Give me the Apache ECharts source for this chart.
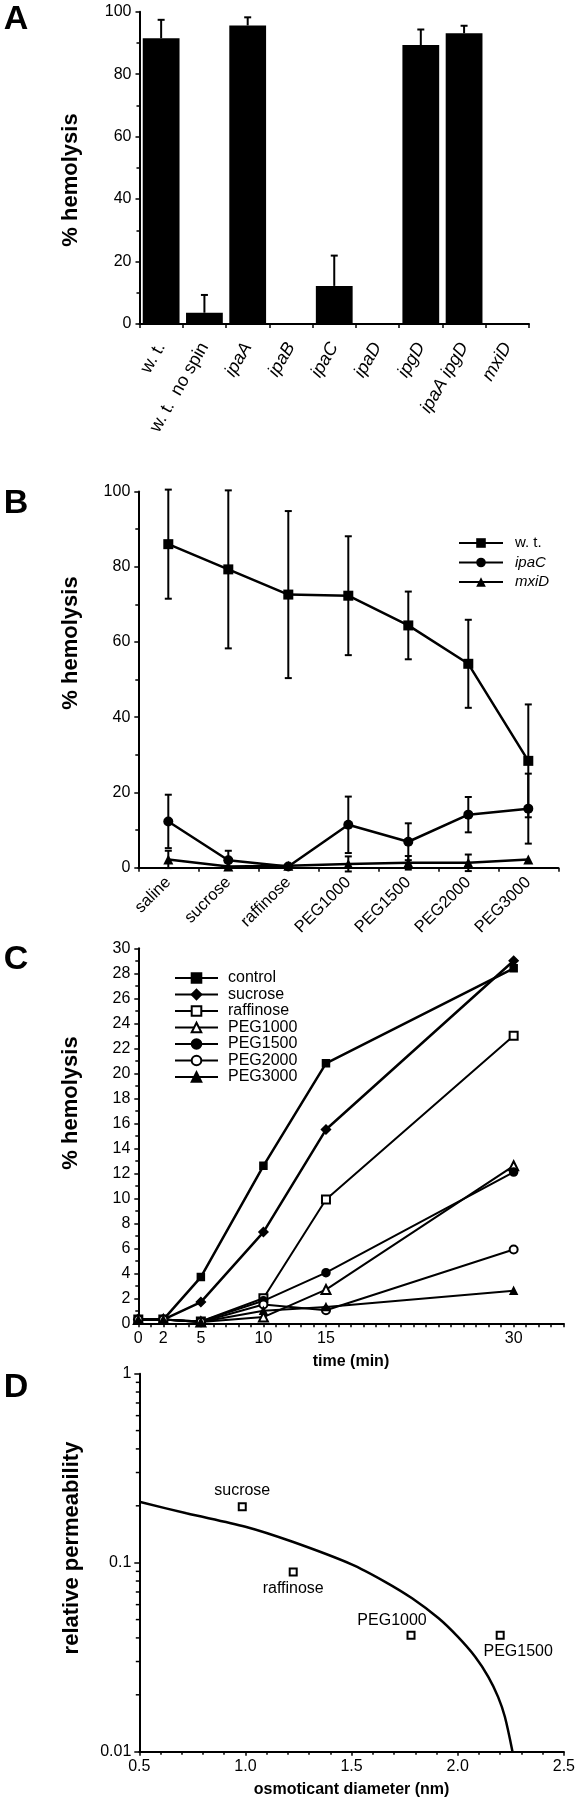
<!DOCTYPE html>
<html><head><meta charset="utf-8">
<script src="https://cdn.jsdelivr.net/npm/echarts@6/dist/echarts.min.js"></script>
<style>html,body{margin:0;padding:0;background:#fff}#c{width:578px;height:1800px}</style>
</head><body><div id="c"></div>
<script>
// ---------- Panel A ----------
const strainsA = ['w. t.', 'w. t.  no spin', 'ipaA', 'ipaB', 'ipaC', 'ipaD', 'ipgD', 'ipaA ipgD', 'mxiD'];
const hemolysisA = [91.5, 3.6, 95.6, 0, 12.2, 0, 89.3, 93.1, 0];
const errorA = [5.9, 5.7, 2.6, 0, 9.7, 0, 5.0, 2.4, 0];

// ---------- Panel B ----------
const osmoticantsB = ['saline', 'sucrose', 'raffinose', 'PEG1000', 'PEG1500', 'PEG2000', 'PEG3000'];
const wtB = [86.0, 79.3, 72.6, 72.3, 64.4, 54.2, 28.4];
const wtErrB = [14.5, 21.0, 22.2, 15.8, 9.0, 11.7, 15.0];
const ipaCB = [12.3, 2.0, 0.3, 11.4, 6.9, 14.1, 15.7];
const ipaCErrB = [7.1, 2.5, 0, 7.5, 4.9, 4.7, 9.3];
const mxiDB = [2.2, 0.3, 0.5, 1.0, 1.3, 1.3, 2.2];
const mxiDErrB = [2.3, 0, 0, 2.0, 1.8, 2.2, 0];

// ---------- Panel C ----------
const timeC = [0, 2, 5, 10, 15, 30];
const timeLabelsC = [0, 2, 5, 10, 15, 30];
const controlC = [0.3, 0.3, 3.7, 12.6, 20.8, 28.4];
const sucroseC = [0.3, 0.3, 1.7, 7.3, 15.5, 29.0];
const raffinoseC = [0.3, 0.3, 0.15, 2.0, 9.9, 23.0];
const peg1000C = [0.3, 0.3, 0.1, 0.5, 2.7, 12.6];
const peg1500C = [0.3, 0.3, 0.15, 1.8, 4.05, 12.1];
const peg2000C = [0.3, 0.3, 0.1, 1.5, 1.05, 5.9];
const peg3000C = [0.3, 0.3, 0.1, 1.0, 1.3, 2.6];

// ---------- Panel D ----------
const namesD = ['sucrose', 'raffinose', 'PEG1000', 'PEG1500'];
const diameterD = [0.985, 1.225, 1.78, 2.2];
const permeabilityD = [0.198, 0.0893, 0.0413, 0.0413];
const fitDiameterD = [0.5, 0.722, 1.0, 1.222, 1.5, 1.66, 1.785, 1.91, 2.0, 2.082, 2.144, 2.19, 2.222, 2.258];
const fitPermeabilityD = [0.210, 0.1825, 0.155, 0.129, 0.098, 0.079, 0.0648, 0.0508, 0.0406, 0.0318, 0.0249, 0.0195, 0.0153, 0.0100];
const minorTicksD = [0.02, 0.03, 0.04, 0.05, 0.06, 0.07, 0.08, 0.09, 0.2, 0.3, 0.4, 0.5, 0.6, 0.7, 0.8, 0.9];

// ---------- styling ----------
const FONT = "'Liberation Sans', Arial, Helvetica, sans-serif";
const BLACK = '#000';
const axLine = { show: true, onZero: false, lineStyle: { color: BLACK, width: 2 } };
const tick = (len) => ({ show: true, inside: false, length: len, lineStyle: { color: BLACK, width: 1.5 } });
const minor = (n) => ({ show: true, splitNumber: n, length: 3, lineStyle: { color: BLACK, width: 1.5 } });
const lbl = (extra) => Object.assign({ color: BLACK, fontSize: 16, fontFamily: FONT }, extra || {});
const yTitle = (text, x, y) => ({
  type: 'text', x: x, y: y, rotation: Math.PI / 2, silent: true,
  style: { text: text, fontSize: 22, fontWeight: 'bold', fontFamily: FONT, fill: BLACK,
    align: 'center', verticalAlign: 'middle', textAlign: 'center', textVerticalAlign: 'middle' }
});
const panelLetter = (text, top) => ({ type: 'text', left: 3.7, top: top, silent: true,
  style: { text: text, fontSize: 34, fontWeight: 'bold', fontFamily: FONT, fill: BLACK } });

function errorBars(upOnly) {
  return function (params, api) {
    const x = api.value(0), v = api.value(1), e = api.value(2);
    if (!(e > 0)) return null;
    const hi = api.coord([x, v + e]);
    const lo = api.coord([x, upOnly ? v : v - e]);
    const cap = 3.5;
    const style = { stroke: BLACK, lineWidth: 2 };
    const children = [
      { type: 'line', shape: { x1: hi[0], y1: hi[1], x2: lo[0], y2: lo[1] }, style: style },
      { type: 'line', shape: { x1: hi[0] - cap, y1: hi[1], x2: hi[0] + cap, y2: hi[1] }, style: style }
    ];
    if (!upOnly) children.push({ type: 'line', shape: { x1: lo[0] - cap, y1: lo[1], x2: lo[0] + cap, y2: lo[1] }, style: style });
    return { type: 'group', children: children };
  };
}

// minor ticks of the log axis, placed through the axis scale
function logMinorTick(params, api) {
  const p = api.coord([api.value(0), api.value(1)]);
  return { type: 'line', shape: { x1: p[0] - 3.5, y1: p[1], x2: p[0], y2: p[1] }, style: { stroke: BLACK, lineWidth: 1.5 } };
}

const pairs = (xs, ys) => xs.map((x, i) => [x, ys[i]]);
const triples = (vals, errs) => vals.map((v, i) => [i, v, errs[i]]);

const lineB = (name, data, symbol, size) => ({
  name: name, type: 'line', xAxisIndex: 1, yAxisIndex: 1, data: data, symbol: symbol, symbolSize: size,
  itemStyle: { color: BLACK }, lineStyle: { color: BLACK, width: 2.5 }, z: 4
});
const errB = (vals, errs) => ({
  type: 'custom', xAxisIndex: 1, yAxisIndex: 1, data: triples(vals, errs),
  encode: { x: 0, y: 1 }, renderItem: errorBars(false), z: 3, silent: true
});
const lineC = (name, ys, symbol, size, width) => ({
  name: name, type: 'line', xAxisIndex: 2, yAxisIndex: 2, data: pairs(timeC, ys),
  symbol: symbol, symbolSize: size, itemStyle: { color: BLACK, borderColor: BLACK, borderWidth: 1.5 },
  lineStyle: { color: BLACK, width: width }, z: 4
});

const labelPlacementD = [
  { position: 'top', distance: 4 },
  { position: 'bottom', distance: 4 },
  { position: 'top', distance: 2, offset: [-19, 0] },
  { position: 'bottom', distance: 4, offset: [18, 0] }
];

const option = {
  animation: false,
  backgroundColor: '#fff',
  textStyle: { fontFamily: FONT },
  grid: [
    { left: 139.5, top: 11.7, width: 389.5, height: 312.3 },
    { left: 138.3, top: 491.5, width: 420, height: 376.2 },
    { left: 138.3, top: 948.3, width: 425.4, height: 375 },
    { left: 139.3, top: 1373.7, width: 426.7, height: 378 }
  ],
  xAxis: [
    { type: 'category', gridIndex: 0, data: strainsA, axisLine: axLine, axisTick: tick(4), splitLine: { show: false },
      axisLabel: lbl({ rotate: 60, margin: 20, interval: 0,
        formatter: (v) => v.indexOf('w.') === 0 ? '{n|' + v + '}' : '{i|' + v + '}',
        rich: { n: { fontSize: 18, fontFamily: FONT, color: BLACK }, i: { fontSize: 18, fontFamily: FONT, fontStyle: 'italic', color: BLACK } } }) },
    { type: 'category', gridIndex: 1, data: osmoticantsB, axisLine: axLine, axisTick: tick(4), splitLine: { show: false },
      axisLabel: lbl({ rotate: 45, margin: 12, interval: 0, fontSize: 16.5 }) },
    { type: 'value', gridIndex: 2, min: 0, max: 34, interval: 1, axisLine: axLine, axisTick: tick(4), splitLine: { show: false },
      axisLabel: lbl({ margin: 7, formatter: (v) => timeLabelsC.indexOf(v) >= 0 ? String(v) : '' }),
      name: 'time (min)', nameLocation: 'middle', nameGap: 30, nameTextStyle: { color: BLACK, fontSize: 16, fontWeight: 'bold', fontFamily: FONT } },
    { type: 'value', gridIndex: 3, min: 0.5, max: 2.5, interval: 0.5, axisLine: axLine, axisTick: tick(4), minorTick: minor(5), splitLine: { show: false }, minorSplitLine: { show: false },
      axisLabel: lbl({ margin: 7, formatter: (v) => v.toFixed(1) }),
      name: 'osmoticant diameter (nm)', nameLocation: 'middle', nameGap: 30, nameTextStyle: { color: BLACK, fontSize: 16, fontWeight: 'bold', fontFamily: FONT } }
  ],
  yAxis: [
    { type: 'value', gridIndex: 0, min: 0, max: 100, interval: 20, axisLine: axLine, axisTick: tick(4), minorTick: minor(2), splitLine: { show: false }, minorSplitLine: { show: false },
      axisLabel: lbl({ margin: 8 }) },
    { type: 'value', gridIndex: 1, min: 0, max: 100, interval: 20, axisLine: axLine, axisTick: tick(4), minorTick: minor(2), splitLine: { show: false }, minorSplitLine: { show: false },
      axisLabel: lbl({ margin: 8 }) },
    { type: 'value', gridIndex: 2, min: 0, max: 30, interval: 2, axisLine: axLine, axisTick: tick(4), minorTick: minor(2), splitLine: { show: false }, minorSplitLine: { show: false },
      axisLabel: lbl({ margin: 8 }) },
    { type: 'log', logBase: 10, gridIndex: 3, min: 0.01, max: 1, axisLine: axLine, axisTick: tick(5), splitLine: { show: false },
      axisLabel: lbl({ margin: 8 }) }
  ],
  legend: [
    { data: ['w. t.', 'ipaC', 'mxiD'], orient: 'vertical', left: 453, top: 530.5, itemWidth: 44, itemHeight: 12, itemGap: 4.5,
      formatter: (n) => n === 'w. t.' ? n : '{i|' + n + '}',
      textStyle: { color: BLACK, fontSize: 15, fontFamily: FONT, padding: [0, 0, 0, 7],
        rich: { i: { fontStyle: 'italic', fontSize: 15, fontFamily: FONT, color: BLACK } } } },
    { data: ['control', 'sucrose', 'raffinose', 'PEG1000', 'PEG1500', 'PEG2000', 'PEG3000'], orient: 'vertical', left: 169, top: 965,
      itemWidth: 43, itemHeight: 12, itemGap: 0.5,
      textStyle: { color: BLACK, fontSize: 16, fontFamily: FONT, padding: [0, 0, 0, 5] } }
  ],
  graphic: [
    panelLetter('A', 3), panelLetter('B', 487), panelLetter('C', 943), panelLetter('D', 1371),
    yTitle('% hemolysis', 71, 180),
    yTitle('% hemolysis', 71, 643),
    yTitle('% hemolysis', 71, 1103),
    yTitle('relative permeability', 72, 1548)
  ],
  series: [
    { type: 'bar', xAxisIndex: 0, yAxisIndex: 0, data: hemolysisA, barWidth: '85%', itemStyle: { color: BLACK }, z: 2 },
    { type: 'custom', xAxisIndex: 0, yAxisIndex: 0, data: triples(hemolysisA, errorA), encode: { x: 0, y: 1 }, renderItem: errorBars(true), z: 3, silent: true },

    errB(wtB, wtErrB), errB(ipaCB, ipaCErrB), errB(mxiDB, mxiDErrB),
    lineB('w. t.', wtB, 'rect', 10),
    lineB('ipaC', ipaCB, 'circle', 10),
    lineB('mxiD', mxiDB, 'triangle', 10),

    lineC('control', controlC, 'rect', 7, 2.5),
    lineC('sucrose', sucroseC, 'diamond', 9, 2.5),
    lineC('raffinose', raffinoseC, 'emptyRect', 8, 2),
    lineC('PEG1000', peg1000C, 'emptyTriangle', 9, 2),
    lineC('PEG1500', peg1500C, 'circle', 8, 2),
    lineC('PEG2000', peg2000C, 'emptyCircle', 8, 2),
    lineC('PEG3000', peg3000C, 'triangle', 7, 2),

    { type: 'custom', xAxisIndex: 3, yAxisIndex: 3, data: minorTicksD.map((v) => [0.5, v]), encode: { x: 0, y: 1 },
      renderItem: logMinorTick, silent: true, z: 5 },
    { type: 'line', xAxisIndex: 3, yAxisIndex: 3, data: pairs(fitDiameterD, fitPermeabilityD), symbol: 'none', smooth: 0.3,
      lineStyle: { color: BLACK, width: 2.5 }, z: 3 },
    { type: 'scatter', xAxisIndex: 3, yAxisIndex: 3, symbol: 'emptyRect', symbolSize: 7,
      itemStyle: { color: BLACK, borderColor: BLACK, borderWidth: 1.5, opacity: 1 }, z: 4,
      data: diameterD.map((d, i) => ({ value: [d, permeabilityD[i]], name: namesD[i],
        label: Object.assign({ show: true, formatter: '{b}', color: BLACK, fontSize: 16, fontFamily: FONT, opacity: 1 }, labelPlacementD[i]) })) }
  ]
};

const chart = echarts.init(document.getElementById('c'), null, { renderer: 'canvas' });
chart.setOption(option);
</script></body></html>
